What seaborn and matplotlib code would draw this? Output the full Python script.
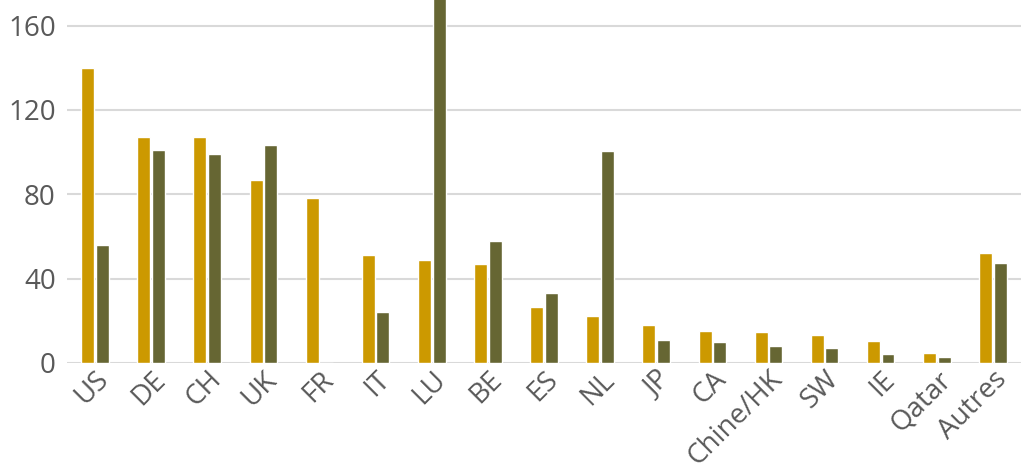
import pandas as pd
import matplotlib.pyplot as plt
import seaborn as sns

# values
pays = ['US', 'DE', 'CH', 'UK', 'FR', 'IT', 'LU', 'BE', 'ES', 'NL', 'JP', 'CA',
        'Chine/HK', 'SW', 'IE', 'Qatar', 'Autres']
serie_a = [140, 107, 107, 87, 78, 51, 49, 47, 26.5, 22, 18, 15, 14.6, 13, 10.3, 4.7, 52]
serie_b = [56, 101, 99, 103.5, 0, 24, 180, 58, 33, 100.5, 11, 10, 8, 7, 4.2, 2.8, 47.5]

df = pd.DataFrame({'pays': pays * 2,
                   'valeur': serie_a + serie_b,
                   'serie': ['a'] * len(pays) + ['b'] * len(pays)})

sns.set_style('white')
plt.rcParams['font.family'] = ['Open Sans', 'DejaVu Sans']

fig = plt.figure(figsize=(10.21, 4.70), dpi=100)
ax = fig.add_axes([0.0656, 0.228, 0.9344, 0.772])

sns.barplot(data=df, x='pays', y='valeur', hue='serie',
            palette=['#CC9900', '#666633'], saturation=1, width=0.52, gap=0.11,
            legend=False, ax=ax)

ax.set_ylim(0, 172.2)
ax.set_xlim(-0.5, 16.5)
ax.set_yticks([0, 40, 80, 120, 160])
ax.yaxis.grid(True, color='#D9D9D9', linewidth=1.5)
ax.set_axisbelow(True)
sns.despine(ax=ax, left=True, bottom=True, top=True, right=True)
ax.set_xlabel('')
ax.set_ylabel('')
ax.tick_params(axis='both', length=0, labelsize=20, colors='#595959')
ax.tick_params(axis='y', pad=8)
ax.tick_params(axis='x', pad=2)
plt.setp(ax.get_xticklabels(), rotation=45, ha='right', rotation_mode='anchor')

fig.savefig('out.png', dpi=100)
